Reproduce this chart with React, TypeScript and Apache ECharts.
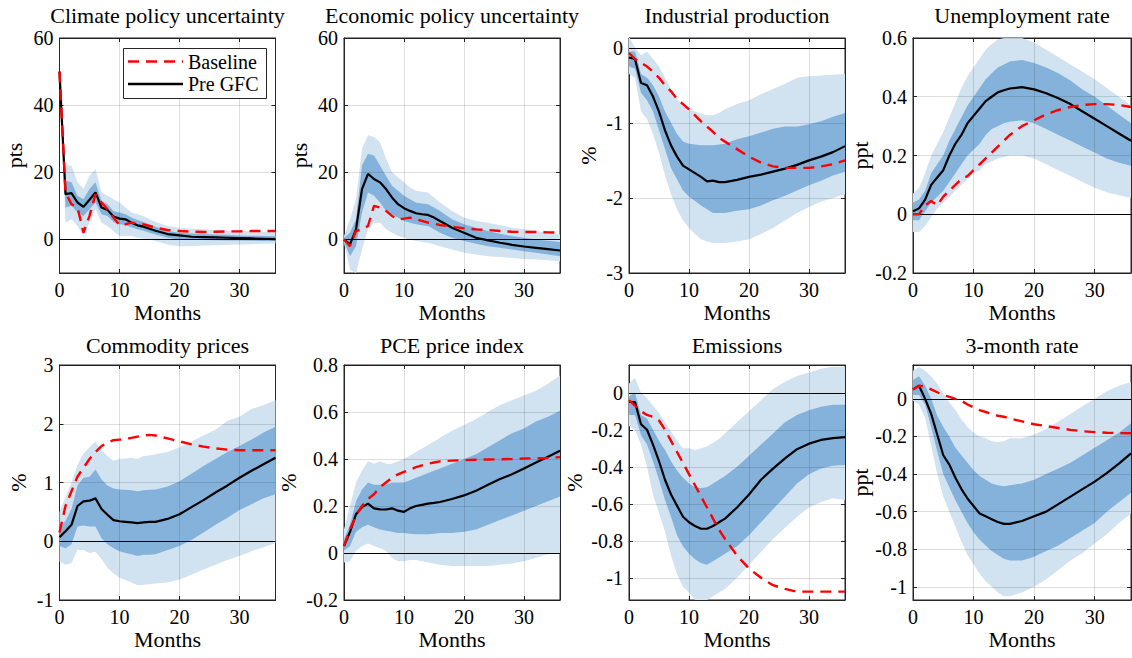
import React, { useEffect, useRef } from 'react';
import * as echarts from 'echarts';

// ---------------- data ----------------
const months = [0,1,2,3,4,5,6,7,8,9,10,11,12,13,14,15,16,18,20,22,24,26,28,30,32,34,36];
const xTicks = [0, 10, 20, 30];

// Climate policy uncertainty
const cpuPre  = [50,13.5,13.8,11,9.7,11.8,14,9.5,8.8,6.8,6.2,6.0,5.0,4.2,3.8,3.2,2.6, 1.6,1.2,0.8,0.7,0.6,0.5,0.4,0.3,0.2,0.1];
const cpuBase = [50,14,10.5,9.5,2,7,13.5,11,9,6.5,4.2,4.5,5,4.8,4.5,4,3.5, 2.8,2.5,2.3,2.2,2.3,2.4,2.4,2.5,2.5,2.5];
const cpuHi90 = [50,22,22,17,15,19,21,14,13,12,11,9.5,8,7.5,7,6,5.2, 4,3.5,3.2,3,2.8,2.6,2.5,2.4,2.3,2.3];
const cpuLo90 = [50,5,6,4,1,5,9,5,4,2.5,1,1,1,0.5,0.3,0,-0.5, -1.5,-2,-2,-1.8,-1.7,-1.6,-1.5,-1.4,-1.3,-1.2];
const cpuHi68 = [50,17.5,17,13,12,15,17,11.5,10.5,8.5,8,7.5,6.5,5.8,5.2,4.5,3.8, 2.5,2,1.8,1.6,1.5,1.4,1.2,1.1,1,1];
const cpuLo68 = [50,9.5,10,8,7,9,11,7.5,7,5.2,4.5,4.3,3.6,3,2.6,2,1.5, 0.5,0,-0.1,-0.2,-0.25,-0.3,-0.3,-0.4,-0.45,-0.5];
const cpuTicks = [0, 20, 40, 60];

// Economic policy uncertainty
const epuPre  = [0,-1.5,3,15,19.5,18,17,15,12.5,10.5,9.3,8.5,7.8,7.5,7.3,6.5,5.5, 3.5,2,0.5,-0.3,-1,-1.6,-2.1,-2.5,-2.9,-3.3];
const epuBase = [0,-2,2.5,3,4,10,9.5,8.5,7,6,6.2,6.5,6,5.5,5,4.7,4.3, 3.8,3.3,3,2.8,2.5,2.3,2.2,2.2,2.1,2];
const epuHi90 = [1,6,12,27,31,30.5,29,24,20,18.5,17,15.5,14.5,14.2,14,12.5,11, 8.5,6.5,5.5,5,4.2,3.5,3,2.5,2,1.5];
const epuLo90 = [-1,-9,-10,-3,3,5,5,3,2,1,0.5,0,-0.5,-0.8,-1,-1.5,-2, -3,-4,-4.5,-5,-5.2,-5.5,-5.8,-6,-6.2,-6.5];
const epuHi68 = [0.5,2,6,22,25.5,25,22,19,16,14.5,13,12,11,10.7,10.5,9.5,8.5, 6,4.5,3.5,2.5,1.7,1,0.5,0,-0.4,-0.8];
const epuLo68 = [-0.5,-5,-2,8,14,13,11,8.5,7.5,6.5,5.5,5,4.5,4.2,4,3,2, 0.5,-0.5,-1.3,-2,-2.5,-3,-3.5,-4,-4.5,-5];
const epuTicks = [0, 20, 40, 60];

// Industrial production
const ipPre  = [-0.13,-0.15,-0.47,-0.5,-0.65,-0.85,-1.1,-1.3,-1.45,-1.57,-1.62,-1.67,-1.72,-1.78,-1.77,-1.79,-1.79, -1.76,-1.72,-1.69,-1.65,-1.61,-1.56,-1.5,-1.45,-1.39,-1.31];
const ipBase = [-0.07,-0.15,-0.2,-0.25,-0.32,-0.4,-0.5,-0.58,-0.68,-0.75,-0.82,-0.9,-0.98,-1.05,-1.12,-1.2,-1.25, -1.35,-1.45,-1.53,-1.58,-1.6,-1.6,-1.6,-1.58,-1.55,-1.5];
const ipHi90 = [0.15,0,-0.1,-0.05,-0.15,-0.25,-0.4,-0.55,-0.68,-0.77,-0.8,-0.85,-0.88,-0.9,-0.9,-0.87,-0.82, -0.75,-0.7,-0.62,-0.55,-0.48,-0.4,-0.38,-0.37,-0.36,-0.35];
const ipLo90 = [-0.35,-0.4,-0.85,-0.95,-1.15,-1.4,-1.7,-1.95,-2.15,-2.3,-2.4,-2.48,-2.55,-2.58,-2.6,-2.6,-2.6, -2.58,-2.55,-2.48,-2.4,-2.3,-2.2,-2.12,-2.05,-2,-1.95];
const ipHi68 = [-0.05,-0.05,-0.35,-0.4,-0.5,-0.65,-0.85,-1,-1.15,-1.25,-1.28,-1.29,-1.3,-1.3,-1.3,-1.29,-1.28, -1.22,-1.18,-1.13,-1.08,-1.05,-1.05,-1.02,-0.98,-0.92,-0.87];
const ipLo68 = [-0.25,-0.28,-0.6,-0.7,-0.85,-1.1,-1.35,-1.6,-1.75,-1.9,-1.98,-2.04,-2.1,-2.15,-2.2,-2.2,-2.2, -2.17,-2.15,-2.1,-2.03,-1.97,-1.9,-1.83,-1.77,-1.7,-1.65];
const ipTicks = [-3, -2, -1, 0];

// Unemployment rate
const urPre  = [0.01,0.02,0.05,0.1,0.125,0.15,0.2,0.24,0.27,0.31,0.335,0.36,0.385,0.4,0.415,0.422,0.428, 0.433,0.425,0.412,0.395,0.375,0.35,0.325,0.3,0.275,0.25];
const urBase = [0,0,0.03,0.045,0.03,0.06,0.08,0.1,0.12,0.13,0.15,0.17,0.19,0.21,0.23,0.25,0.27, 0.3,0.32,0.34,0.355,0.365,0.372,0.375,0.375,0.372,0.365];
const urHi90 = [0.07,0.09,0.14,0.2,0.24,0.28,0.33,0.38,0.43,0.47,0.5,0.53,0.56,0.58,0.595,0.6,0.605, 0.6,0.585,0.56,0.535,0.51,0.485,0.46,0.43,0.4,0.37];
const urLo90 = [-0.06,-0.06,-0.04,-0.01,0.02,0.04,0.06,0.08,0.1,0.12,0.14,0.15,0.17,0.18,0.19,0.195,0.2, 0.2,0.19,0.17,0.15,0.13,0.11,0.09,0.075,0.065,0.055];
const urHi68 = [0.04,0.05,0.08,0.14,0.17,0.2,0.25,0.29,0.33,0.37,0.4,0.43,0.46,0.48,0.5,0.51,0.52, 0.525,0.515,0.5,0.48,0.455,0.425,0.4,0.37,0.34,0.31];
const urLo68 = [-0.02,-0.02,0.01,0.04,0.06,0.08,0.11,0.14,0.17,0.2,0.22,0.24,0.27,0.29,0.3,0.31,0.315, 0.32,0.31,0.29,0.27,0.25,0.23,0.21,0.19,0.175,0.165];
const urTicks = [-0.2, 0, 0.2, 0.4, 0.6];

// Commodity prices
const comPre  = [0.07,0.17,0.28,0.6,0.68,0.69,0.73,0.55,0.45,0.36,0.34,0.33,0.32,0.31,0.32,0.33,0.33, 0.38,0.46,0.58,0.7,0.83,0.95,1.08,1.2,1.31,1.42];
const comBase = [0.15,0.6,0.85,1.1,1.25,1.4,1.52,1.62,1.68,1.72,1.73,1.74,1.76,1.78,1.8,1.81,1.8, 1.75,1.7,1.65,1.61,1.58,1.56,1.55,1.55,1.55,1.55];
const comHi90 = [0.5,0.75,1,1.3,1.5,1.6,1.7,1.55,1.45,1.37,1.4,1.41,1.42,1.4,1.45,1.46,1.48, 1.52,1.6,1.7,1.8,1.9,2.05,2.12,2.25,2.32,2.4];
const comLo90 = [-0.35,-0.4,-0.37,-0.15,-0.15,-0.2,-0.18,-0.3,-0.45,-0.55,-0.62,-0.66,-0.7,-0.75,-0.74,-0.73,-0.72, -0.7,-0.65,-0.57,-0.48,-0.4,-0.32,-0.25,-0.17,-0.1,-0.03];
const comHi68 = [0.2,0.35,0.55,0.95,1.08,1.1,1.22,1.05,0.95,0.9,0.88,0.875,0.87,0.85,0.87,0.875,0.88, 0.93,1.02,1.15,1.28,1.4,1.52,1.62,1.73,1.85,1.95];
const comLo68 = [-0.08,-0.12,-0.05,0.25,0.27,0.25,0.25,0.05,-0.05,-0.12,-0.17,-0.2,-0.22,-0.25,-0.23,-0.23,-0.22, -0.15,-0.08,0.02,0.15,0.28,0.4,0.53,0.63,0.73,0.8];
const comTicks = [-1, 0, 1, 2, 3];

// PCE price index
const pcePre  = [0.03,0.09,0.165,0.195,0.21,0.19,0.186,0.185,0.19,0.18,0.175,0.19,0.2,0.205,0.21,0.213,0.217, 0.23,0.245,0.265,0.29,0.315,0.335,0.36,0.385,0.41,0.435];
const pceBase = [0.03,0.1,0.16,0.2,0.23,0.25,0.28,0.3,0.32,0.335,0.345,0.355,0.365,0.373,0.38,0.385,0.39, 0.393,0.395,0.397,0.398,0.399,0.4,0.402,0.403,0.405,0.408];
const pceHi90 = [0.1,0.2,0.3,0.35,0.39,0.38,0.39,0.38,0.38,0.39,0.4,0.415,0.43,0.445,0.46,0.475,0.49, 0.52,0.545,0.57,0.6,0.63,0.65,0.67,0.69,0.72,0.755];
const pceLo90 = [-0.04,-0.035,0.01,0.03,0.04,0.03,0.02,0.01,-0.02,-0.035,-0.035,-0.03,-0.03,-0.035,-0.04,-0.045,-0.05, -0.055,-0.055,-0.055,-0.055,-0.05,-0.045,-0.035,-0.02,-0.005,0];
const pceHi68 = [0.06,0.12,0.22,0.27,0.3,0.29,0.29,0.29,0.3,0.3,0.3,0.31,0.32,0.33,0.34,0.35,0.36, 0.38,0.4,0.42,0.45,0.48,0.51,0.53,0.56,0.58,0.605];
const pceLo68 = [0.01,0.03,0.09,0.11,0.12,0.11,0.1,0.095,0.09,0.085,0.085,0.082,0.08,0.08,0.08,0.082,0.085, 0.085,0.09,0.1,0.12,0.14,0.16,0.18,0.2,0.22,0.24];
const pceTicks = [-0.2, 0, 0.2, 0.4, 0.6, 0.8];

// Emissions
const emsPre  = [-0.05,-0.05,-0.17,-0.2,-0.28,-0.37,-0.47,-0.55,-0.61,-0.67,-0.7,-0.72,-0.735,-0.735,-0.72,-0.7,-0.68, -0.62,-0.55,-0.47,-0.41,-0.355,-0.305,-0.275,-0.255,-0.245,-0.24];
const emsBase = [-0.04,-0.07,-0.1,-0.12,-0.13,-0.15,-0.2,-0.26,-0.32,-0.38,-0.44,-0.5,-0.56,-0.62,-0.68,-0.74,-0.79, -0.88,-0.95,-1,-1.04,-1.06,-1.075,-1.075,-1.075,-1.075,-1.075];
const emsHi90 = [0.05,0.08,0,-0.03,-0.07,-0.11,-0.16,-0.21,-0.26,-0.3,-0.3,-0.31,-0.3,-0.29,-0.27,-0.25,-0.22, -0.16,-0.1,-0.04,0.02,0.06,0.09,0.11,0.13,0.14,0.14];
const emsLo90 = [-0.18,-0.2,-0.28,-0.4,-0.55,-0.65,-0.75,-0.88,-0.98,-1.05,-1.08,-1.12,-1.12,-1.12,-1.1,-1.08,-1.06, -1,-0.93,-0.86,-0.79,-0.73,-0.67,-0.62,-0.59,-0.57,-0.58];
const emsHi68 = [-0.02,0,-0.12,-0.14,-0.2,-0.26,-0.31,-0.37,-0.42,-0.46,-0.49,-0.51,-0.515,-0.51,-0.49,-0.47,-0.45, -0.4,-0.34,-0.28,-0.22,-0.16,-0.12,-0.095,-0.075,-0.065,-0.065];
const emsLo68 = [-0.12,-0.12,-0.23,-0.28,-0.37,-0.47,-0.58,-0.67,-0.77,-0.83,-0.87,-0.9,-0.92,-0.93,-0.91,-0.89,-0.87, -0.83,-0.77,-0.7,-0.63,-0.56,-0.49,-0.44,-0.41,-0.395,-0.39];
const emsTicks = [-1, -0.8, -0.6, -0.4, -0.2, 0];

// 3-month rate
const ratePre  = [0.05,0.07,0,-0.08,-0.19,-0.3,-0.35,-0.42,-0.48,-0.53,-0.57,-0.61,-0.625,-0.64,-0.655,-0.665,-0.665, -0.65,-0.625,-0.6,-0.56,-0.52,-0.48,-0.44,-0.395,-0.345,-0.29];
const rateBase = [0.05,0.07,0.065,0.05,0.035,0.02,0.01,0,-0.01,-0.03,-0.045,-0.06,-0.07,-0.08,-0.09,-0.095,-0.105, -0.12,-0.135,-0.145,-0.155,-0.165,-0.172,-0.177,-0.18,-0.182,-0.183];
const rateHi90 = [0.15,0.17,0.15,0.12,0.08,0.03,-0.02,-0.06,-0.11,-0.15,-0.18,-0.2,-0.21,-0.225,-0.23,-0.225,-0.21, -0.21,-0.19,-0.16,-0.12,-0.08,-0.04,0,0.04,0.07,0.09];
const rateLo90 = [-0.01,-0.03,-0.1,-0.25,-0.4,-0.52,-0.6,-0.68,-0.76,-0.83,-0.88,-0.93,-0.97,-1,-1.03,-1.05,-1.05, -1.03,-1,-0.96,-0.91,-0.86,-0.82,-0.77,-0.72,-0.66,-0.61];
const rateHi68 = [0.1,0.12,0.07,0,-0.09,-0.15,-0.2,-0.26,-0.3,-0.34,-0.38,-0.41,-0.43,-0.45,-0.46,-0.465,-0.46, -0.45,-0.43,-0.4,-0.37,-0.34,-0.3,-0.26,-0.22,-0.18,-0.13];
const rateLo68 = [0.02,0.02,-0.03,-0.15,-0.28,-0.4,-0.47,-0.54,-0.6,-0.66,-0.71,-0.75,-0.78,-0.81,-0.83,-0.85,-0.86, -0.86,-0.84,-0.81,-0.78,-0.74,-0.7,-0.66,-0.6,-0.55,-0.5];
const rateTicks = [-1, -0.8, -0.6, -0.4, -0.2, 0];

const titles = ['Climate policy uncertainty', 'Economic policy uncertainty', 'Industrial production', 'Unemployment rate',
  'Commodity prices', 'PCE price index', 'Emissions', '3-month rate'];
const units = ['pts', 'pts', '%', 'ppt', '%', '%', '%', 'ppt'];
const yMins = [-10, -10, -3, -0.2, -1, -0.2, -1.12, -1.07];
const yMaxs = [60, 60, 0.13, 0.6, 3, 0.8, 0.15, 0.18];
const legendNames = ['Baseline', 'Pre GFC'];

const panels = [
  { pre: cpuPre, base: cpuBase, hi90: cpuHi90, lo90: cpuLo90, hi68: cpuHi68, lo68: cpuLo68, ticks: cpuTicks },
  { pre: epuPre, base: epuBase, hi90: epuHi90, lo90: epuLo90, hi68: epuHi68, lo68: epuLo68, ticks: epuTicks },
  { pre: ipPre, base: ipBase, hi90: ipHi90, lo90: ipLo90, hi68: ipHi68, lo68: ipLo68, ticks: ipTicks },
  { pre: urPre, base: urBase, hi90: urHi90, lo90: urLo90, hi68: urHi68, lo68: urLo68, ticks: urTicks },
  { pre: comPre, base: comBase, hi90: comHi90, lo90: comLo90, hi68: comHi68, lo68: comLo68, ticks: comTicks },
  { pre: pcePre, base: pceBase, hi90: pceHi90, lo90: pceLo90, hi68: pceHi68, lo68: pceLo68, ticks: pceTicks },
  { pre: emsPre, base: emsBase, hi90: emsHi90, lo90: emsLo90, hi68: emsHi68, lo68: emsLo68, ticks: emsTicks },
  { pre: ratePre, base: rateBase, hi90: rateHi90, lo90: rateLo90, hi68: rateHi68, lo68: rateLo68, ticks: rateTicks },
];

// ---------------- layout / style ----------------
const FONT = 'Liberation Serif';
const colLeft = [59.5, 344, 629, 913];
const colWidth = [216, 216, 216, 218];
const rowTop = [38, 365];
const rowHeight = 235;
const nameGaps = [34, 34, 30, 39, 30, 45, 44, 39];
const AXIS = '#262626';
const LIGHT = '#d1e2f1';
const DARK = '#84b2db';

const xy = (arr: number[]) => months.map((m, k) => [m, arr[k]]);
const band = (lo: number[], hi: number[]) => months.map((m, k) => [m, lo[k], hi[k]]);
const fmt = (v: number) => String(Math.round(v * 100) / 100);

function bandSeries(i: number, lo: number[], hi: number[], color: string, name: string) {
  return {
    type: 'custom', name, xAxisIndex: 2 * i, yAxisIndex: 2 * i, silent: true, clip: true, z: 1,
    data: band(lo, hi),
    encode: { x: 0, y: [1, 2] },
    renderItem: (params: any, api: any) => {
      if (params.dataIndex !== 0) return null;
      const pts: number[][] = [];
      for (let k = 0; k < months.length; k++) pts.push(api.coord([months[k], hi[k]]));
      for (let k = months.length - 1; k >= 0; k--) pts.push(api.coord([months[k], lo[k]]));
      return { type: 'polygon', shape: { points: pts }, style: { fill: color, stroke: null }, silent: true };
    },
  };
}

function buildOption() {
  const grid: any[] = [];
  const xAxis: any[] = [];
  const yAxis: any[] = [];
  const series: any[] = [];
  const title: any[] = [];

  panels.forEach((p, i) => {
    const col = i % 4;
    const row = Math.floor(i / 4);
    const left = colLeft[col];
    const top = rowTop[row];
    const width = colWidth[col];
    grid.push({ left, top, width, height: rowHeight, show: true, borderColor: AXIS, borderWidth: 1, backgroundColor: 'transparent' });
    title.push({
      text: titles[i], left: left + width / 2, top: row === 0 ? 3 : 333, textAlign: 'center', padding: 0,
      textStyle: { fontFamily: FONT, fontSize: 22, fontWeight: 'normal', color: '#000', lineHeight: 24 },
    });

    const tickCommon = { inside: true, length: 4, lineStyle: { color: AXIS, width: 1 } };
    xAxis.push({
      type: 'value', gridIndex: i, min: 0, max: 36, position: 'bottom',
      axisLine: { show: true, onZero: false, lineStyle: { color: AXIS, width: 1 } },
      axisTick: { ...tickCommon, customValues: xTicks },
      axisLabel: { customValues: xTicks, color: '#000', fontFamily: FONT, fontSize: 20, margin: 7, formatter: fmt },
      splitLine: { show: false },
      name: 'Months', nameLocation: 'middle', nameGap: 28,
      nameTextStyle: { fontFamily: FONT, fontSize: 22, color: '#000' },
    });
    xAxis.push({
      type: 'value', gridIndex: i, min: 0, max: 36, position: 'top',
      axisLine: { show: true, onZero: false, lineStyle: { color: AXIS, width: 1 } },
      axisTick: { ...tickCommon, customValues: xTicks },
      axisLabel: { show: false }, splitLine: { show: false },
    });
    yAxis.push({
      type: 'value', gridIndex: i, min: yMins[i], max: yMaxs[i], position: 'left',
      axisLine: { show: true, onZero: false, lineStyle: { color: AXIS, width: 1 } },
      axisTick: { ...tickCommon, customValues: p.ticks },
      axisLabel: { customValues: p.ticks, color: '#000', fontFamily: FONT, fontSize: 20, margin: 6, formatter: fmt },
      splitLine: { show: false },
      name: units[i], nameLocation: 'middle', nameRotate: 90, nameGap: nameGaps[i],
      nameTextStyle: { fontFamily: FONT, fontSize: 22, color: '#000' },
    });
    yAxis.push({
      type: 'value', gridIndex: i, min: yMins[i], max: yMaxs[i], position: 'right',
      axisLine: { show: true, onZero: false, lineStyle: { color: AXIS, width: 1 } },
      axisTick: { ...tickCommon, customValues: p.ticks },
      axisLabel: { show: false }, splitLine: { show: false },
    });

    const xi = 2 * i;
    const yi = 2 * i;
    series.push(
      bandSeries(i, p.lo90, p.hi90, LIGHT, 'band90_' + i),
      bandSeries(i, p.lo68, p.hi68, DARK, 'band68_' + i),
      {
        type: 'line', name: 'guide' + i, xAxisIndex: xi, yAxisIndex: yi, data: xy(p.pre), symbol: 'none',
        lineStyle: { opacity: 0, width: 0 }, silent: true, z: 2,
        markLine: {
          silent: true, symbol: ['none', 'none'], z: 5, animation: false,
          label: { show: false },
          lineStyle: { color: 'rgba(0,0,0,0.13)', type: 'solid', width: 1 },
          data: [
            ...p.ticks.filter((v) => v !== 0).map((v) => ({ yAxis: v })),
            ...xTicks.filter((v) => v !== 0).map((v) => ({ xAxis: v })),
            { yAxis: 0, lineStyle: { color: '#000', width: 1, type: 'solid' } },
          ],
        },
      },
      { type: 'line', name: legendNames[1], xAxisIndex: xi, yAxisIndex: yi, data: xy(p.pre), symbol: 'none', lineStyle: { color: '#000', width: 2.2 }, itemStyle: { color: '#000' }, z: 10 },
      { type: 'line', name: legendNames[0], xAxisIndex: xi, yAxisIndex: yi, data: xy(p.base), symbol: 'none', lineStyle: { color: '#ff0000', width: 2.4, type: [11, 7] }, itemStyle: { color: '#ff0000' }, z: 11 },
    );
  });

  // legend drawn as graphic elements (box, sample lines, labels)
  const lgX = 123, lgY = 48, lgW = 143, lgH = 50;
  const graphic = [
    { type: 'rect', left: lgX, top: lgY, z: 50, shape: { width: lgW, height: lgH }, style: { fill: '#fff', stroke: AXIS, lineWidth: 1 } },
    { type: 'line', z: 51, shape: { x1: lgX + 5, y1: lgY + 13.5, x2: lgX + 60, y2: lgY + 13.5 }, style: { stroke: '#ff0000', lineWidth: 2.4, lineDash: [11, 7] } },
    { type: 'text', z: 51, x: lgX + 65, y: lgY + 13.5, style: { text: legendNames[0], font: `20px ${FONT}`, fill: '#000', verticalAlign: 'middle', align: 'left' } },
    { type: 'line', z: 51, shape: { x1: lgX + 5, y1: lgY + 36, x2: lgX + 60, y2: lgY + 36 }, style: { stroke: '#000', lineWidth: 2.4 } },
    { type: 'text', z: 51, x: lgX + 65, y: lgY + 36, style: { text: legendNames[1], font: `20px ${FONT}`, fill: '#000', verticalAlign: 'middle', align: 'left' } },
  ];

  return {
    animation: false,
    backgroundColor: '#fff',
    title,
    grid,
    xAxis,
    yAxis,
    series,
    graphic,
  };
}

export default function App() {
  const ref = useRef<HTMLDivElement>(null);
  useEffect(() => {
    if (!ref.current) return;
    const chart = echarts.init(ref.current, null, { renderer: 'svg' });
    chart.setOption(buildOption() as any);
    return () => chart.dispose();
  }, []);
  return (
    <div
      ref={ref}
      style={{ position: 'fixed', left: 0, top: 0, width: 1132, height: 658, background: '#fff' }}
    />
  );
}
